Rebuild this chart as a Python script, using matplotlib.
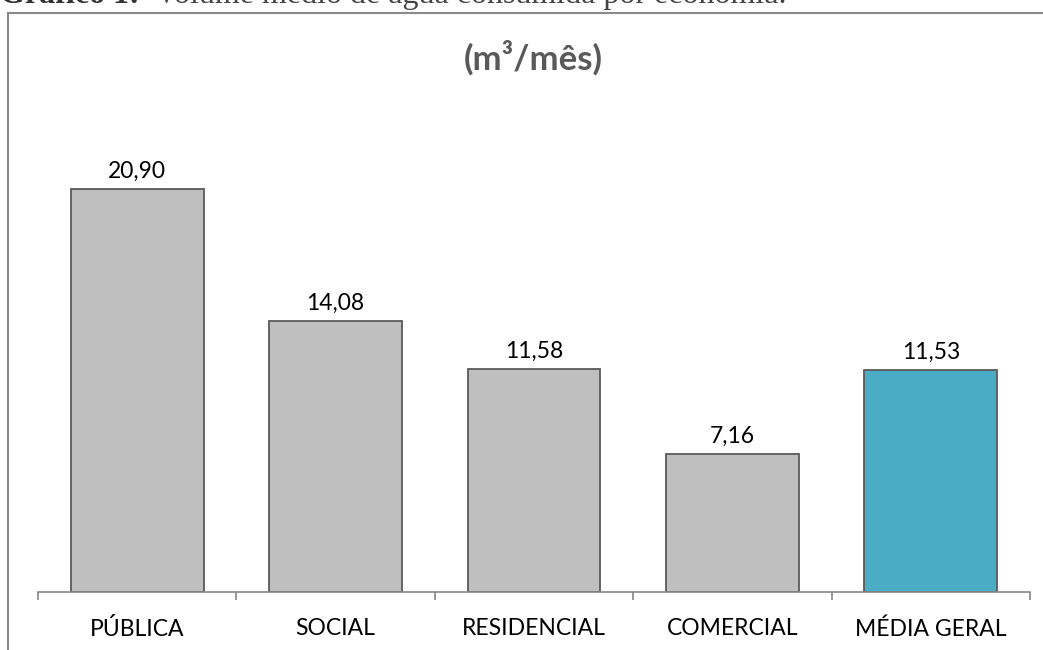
import matplotlib.pyplot as plt
from matplotlib.lines import Line2D

categorias = ["PÚBLICA", "SOCIAL", "RESIDENCIAL", "COMERCIAL", "MÉDIA GERAL"]
volumes = [20.90, 14.08, 11.58, 7.16, 11.53]
rotulos = ["20,90", "14,08", "11,58", "7,16", "11,53"]
cores = ["#BFBFBF", "#BFBFBF", "#BFBFBF", "#BFBFBF", "#4BACC6"]

W, H = 1043, 650
fig = plt.figure(figsize=(W / 100, H / 100), dpi=100)

# axes: x from 38 to 1030 px, baseline at 592 px, 19.28 px per unit
y_max = 25
ax = fig.add_axes([38 / W, (H - 592) / H, 992 / W, y_max * 19.28 / H])

x = range(len(categorias))
ax.bar(x, volumes, width=0.67, color=cores, edgecolor="#5a5a5a", linewidth=1.3, zorder=2)

for xi, v, r in zip(x, volumes, rotulos):
    ax.annotate(r, (xi, v), xytext=(0, 8), textcoords="offset points",
                ha="center", va="baseline", fontsize=16.5, family="Lato", color="black")

ax.set_xlim(-0.5, len(categorias) - 0.5)
ax.set_ylim(0, y_max)
for s in ["top", "right", "left"]:
    ax.spines[s].set_visible(False)
ax.spines["bottom"].set_color("#868686")
ax.spines["bottom"].set_linewidth(1.2)
ax.set_yticks([])
ax.set_xticks([i - 0.5 for i in range(len(categorias) + 1)], minor=False)
ax.set_xticklabels([""] * (len(categorias) + 1))
ax.tick_params(axis="x", which="major", length=6, width=1.2, color="#868686", direction="out")
ax.set_xticks(list(x), minor=True)
ax.set_xticklabels(categorias, minor=True, fontsize=16.5, family="Lato")
ax.tick_params(axis="x", which="minor", length=0, pad=19)

fig.text(533 / W, 1 - 58 / H, "(m³/mês)", ha="center", va="center",
         fontsize=25, fontweight="bold", family="Lato", color="#595959")

# chart frame (top and left visible)
fig.add_artist(Line2D([8 / W, 1], [1 - 13 / H, 1 - 13 / H], color="#8a8a8a", lw=1.5))
fig.add_artist(Line2D([8 / W, 8 / W], [0, 1 - 13 / H], color="#8a8a8a", lw=1.5))

# caption, cut at top edge as in the source
fig.text(0, 1 - 3 / H, "Gráfico 1:", ha="left", va="baseline",
         fontsize=23, fontweight="bold", family="Liberation Serif", color="#333333")
fig.text(155 / W, 1 - 3 / H, "Volume médio de água consumida por economia.", ha="left", va="baseline",
         fontsize=23, family="Liberation Serif", color="#444444")

fig.savefig("out.png", dpi=100)
